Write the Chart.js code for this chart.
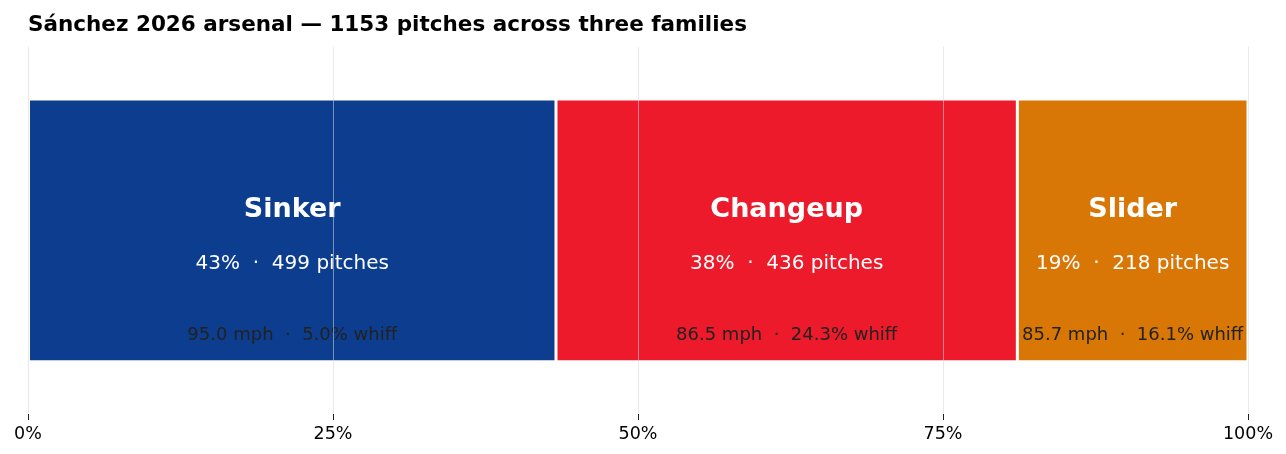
<!DOCTYPE html>
<html>
<head>
<meta charset="utf-8">
<script src="https://cdn.jsdelivr.net/npm/chart.js@4.4.1/dist/chart.umd.min.js"></script>
<style>
  html, body { margin: 0; padding: 0; background: #fff; }
  #wrap { width: 1286px; height: 454px; }
</style>
</head>
<body>
<div id="wrap"><canvas id="arsenal"></canvas></div>
<script>
// Pitch families
const families = ['Sinker', 'Changeup', 'Slider'];
const pitchCounts = [499, 436, 218];
const velocityMph = [95.0, 86.5, 85.7];
const whiffPct = [5.0, 24.3, 16.1];
const familyColors = ['#0c3d8f', '#ec1a2a', '#d97706'];
const xTicks = [0, 25, 50, 75, 100];

const totalPitches = pitchCounts.reduce((a, b) => a + b, 0);
const shares = pitchCounts.map(c => c / totalPitches * 100);

const FONT = "'DejaVu Sans', sans-serif";

// Labels inside each segment
const segmentLabels = {
    id: 'segmentLabels',
    afterDatasetsDraw(chart) {
        const ctx = chart.ctx;
        ctx.save();
        ctx.textAlign = 'center';
        ctx.textBaseline = 'middle';
        chart.data.datasets.forEach((ds, i) => {
            const bar = chart.getDatasetMeta(i).data[0];
            const cx = (bar.x + bar.base) / 2;
            const cy = bar.y;

            ctx.fillStyle = '#ffffff';
            ctx.font = `bold 27px ${FONT}`;
            ctx.fillText(families[i], cx, cy - 20);

            ctx.font = `20px ${FONT}`;
            ctx.fillText(`${Math.round(shares[i])}%  ·  ${pitchCounts[i]} pitches`, cx, cy + 33);

            ctx.fillStyle = '#222222';
            ctx.font = `18px ${FONT}`;
            ctx.fillText(`${velocityMph[i].toFixed(1)} mph  ·  ${whiffPct[i].toFixed(1)}% whiff`, cx, cy + 105);
        });
        ctx.restore();
    }
};

new Chart(document.getElementById('arsenal'), {
    type: 'bar',
    data: {
        labels: ['arsenal'],
        datasets: families.map((name, i) => ({
            label: name,
            data: [shares[i]],
            backgroundColor: familyColors[i],
            borderColor: '#ffffff',
            borderWidth: 1.5,
            borderSkipped: false,
            barPercentage: 0.716,
            categoryPercentage: 1
        }))
    },
    options: {
        indexAxis: 'y',
        responsive: true,
        maintainAspectRatio: false,
        animation: false,
        layout: { padding: { left: 28, right: 38, top: 0, bottom: 5 } },
        plugins: {
            legend: { display: false },
            tooltip: { enabled: false },
            title: {
                display: true,
                text: 'Sánchez 2026 arsenal — 1153 pitches across three families',
                align: 'start',
                color: '#000000',
                font: { family: FONT, size: 21.5, weight: 'bold' },
                padding: { top: 13, bottom: 8 }
            }
        },
        scales: {
            x: {
                stacked: true,
                min: 0,
                max: 100,
                afterBuildTicks: (scale) => {
                    scale.ticks = xTicks.map(v => ({ value: v }));
                },
                afterFit: (scale) => {
                    scale.paddingLeft = 0;
                    scale.paddingRight = 0;
                },
                border: { display: false },
                grid: {
                    z: 1,
                    color: 'rgba(215, 215, 215, 0.55)',
                    lineWidth: 1,
                    tickColor: '#222222',
                    tickLength: 6,
                    tickWidth: 1
                },
                ticks: {
                    color: '#000000',
                    padding: 4,
                    maxRotation: 0,
                    font: { family: FONT, size: 17.5 },
                    callback: (v) => v + '%'
                }
            },
            y: {
                stacked: true,
                display: false
            }
        }
    },
    plugins: [segmentLabels]
});
</script>
</body>
</html>
